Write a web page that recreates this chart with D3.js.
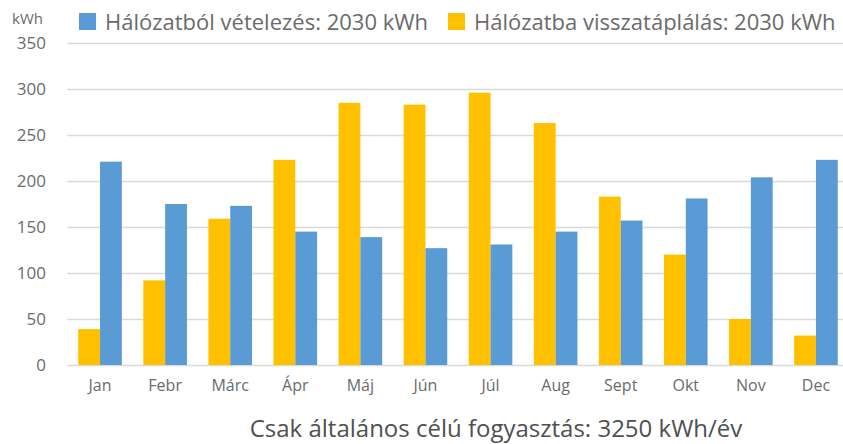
<!DOCTYPE html>
<html>
<head>
<meta charset="utf-8">
<script src="https://cdn.jsdelivr.net/npm/d3@7"></script>
<style>
  body { margin: 0; background: #fff; }
  svg { font-family: "Open Sans", sans-serif; }
</style>
</head>
<body>
<svg id="chart" width="843" height="444"></svg>
<script>
// data
var months = ["Jan", "Febr", "Márc", "Ápr", "Máj", "Jún", "Júl", "Aug", "Sept", "Okt", "Nov", "Dec"];
var feedIn = [39, 92, 159, 223, 285, 283, 296, 263, 183, 120, 50, 32];      // Hálózatba visszatáplálás
var fromGrid = [221, 175, 173, 145, 139, 127, 131, 145, 157, 181, 204, 223]; // Hálózatból vételezés
var yTicks = [0, 50, 100, 150, 200, 250, 300, 350];
var seriesNames = ["Hálózatba visszatáplálás: 2030 kWh", "Hálózatból vételezés: 2030 kWh"];
var seriesColors = ["#FFC000", "#5B9BD5"];
var title = "Csak általános célú fogyasztás: 3250 kWh/év";

var margin_left = 67.5, plot_right = 848.5, margin_top = 43, plot_bottom = 365;
var text_color = "#6b6b6b", grid_color = "#d9d9d9";

var svg = d3.select("#chart");

var x = d3.scaleBand()
    .domain(months)
    .range([margin_left, plot_right])
    .paddingInner(0.33)
    .paddingOuter(0.165);

var xs = d3.scaleBand()
    .domain([0, 1])
    .range([0, x.bandwidth()]);

var y = d3.scaleLinear()
    .domain([0, 350])
    .range([plot_bottom, margin_top]);

// grid
svg.append("g")
    .selectAll("line")
    .data(yTicks)
    .enter()
    .append("line")
    .attr("x1", margin_left)
    .attr("x2", 843)
    .attr("y1", function(d){ return Math.round(y(d)) + 0.5; })
    .attr("y2", function(d){ return Math.round(y(d)) + 0.5; })
    .style("stroke", grid_color)
    .style("stroke-width", "1.5px");

// y axis labels
var yAxis = d3.axisLeft(y).tickValues(yTicks).tickSize(0).tickPadding(0);
var yg = svg.append("g")
    .attr("transform", "translate(46,0)")
    .call(yAxis);
yg.select(".domain").remove();
yg.selectAll("text")
    .attr("fill", text_color)
    .attr("font-size", 17)
    .attr("font-family", "Open Sans, sans-serif");

svg.append("text")
    .text("kWh")
    .attr("x", 12)
    .attr("y", 24)
    .attr("font-size", 15)
    .attr("fill", text_color);

// bars
var series = [feedIn, fromGrid];
series.forEach(function(vals, s){
    svg.append("g")
        .selectAll("rect")
        .data(vals)
        .enter()
        .append("rect")
        .attr("x", function(d, i){ return x(months[i]) + xs(s); })
        .attr("y", function(d){ return y(d); })
        .attr("width", xs.bandwidth())
        .attr("height", function(d){ return y(0) - y(d); })
        .attr("fill", seriesColors[s]);
});

// x axis labels
var xAxis = d3.axisBottom(x).tickSize(0).tickPadding(0);
var xg = svg.append("g")
    .attr("transform", "translate(0,380)")
    .call(xAxis);
xg.select(".domain").remove();
xg.selectAll("text")
    .attr("fill", text_color)
    .attr("font-size", 16)
    .attr("font-family", "Open Sans, sans-serif");

// legend
var legend = [
    {name: seriesNames[1], color: seriesColors[1], x: 79},
    {name: seriesNames[0], color: seriesColors[0], x: 448}
];
var lg = svg.append("g");
legend.forEach(function(l){
    lg.append("rect")
        .attr("x", l.x)
        .attr("y", 13)
        .attr("width", 17)
        .attr("height", 17)
        .attr("fill", l.color);
    lg.append("text")
        .text(l.name)
        .attr("x", l.x + 26)
        .attr("y", 30)
        .attr("font-size", 22)
        .attr("fill", text_color);
});

// title
svg.append("text")
    .text(title)
    .attr("x", 496)
    .attr("y", 437)
    .attr("text-anchor", "middle")
    .attr("font-size", 24)
    .attr("fill", "#505050");
</script>
</body>
</html>
